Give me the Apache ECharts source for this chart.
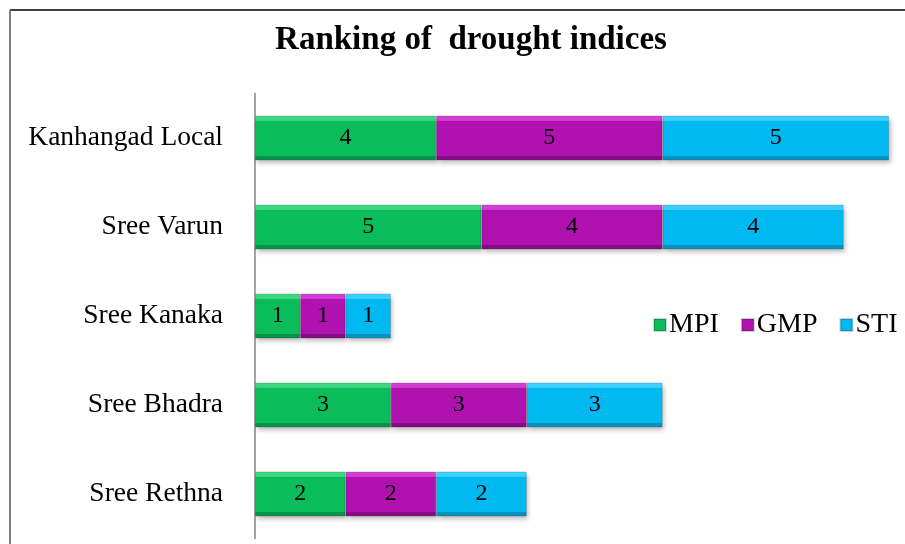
<!DOCTYPE html>
<html>
<head>
<meta charset="utf-8">
<script src="https://cdn.jsdelivr.net/npm/echarts@6/dist/echarts.min.js"></script>
<style>
  html, body { margin: 0; padding: 0; background: #fff; }
  #chart { width: 905px; height: 544px; }
</style>
</head>
<body>
<div id="chart"></div>
<script>
// Varieties, top to bottom
const varieties = ['Kanhangad Local', 'Sree Varun', 'Sree Kanaka', 'Sree Bhadra', 'Sree Rethna'];
// Rank of each variety under each drought index
const mpi = [4, 5, 1, 3, 2];
const gmp = [5, 4, 1, 3, 2];
const sti = [5, 4, 1, 3, 2];

const serif = '"Liberation Serif", "Times New Roman", serif';

// Bevelled look: light top strip, flat face, dark bottom strip
function bevel(light, base, dark) {
  return {
    type: 'linear', x: 0, y: 0, x2: 0, y2: 1,
    colorStops: [
      { offset: 0, color: light },
      { offset: 0.11, color: light },
      { offset: 0.12, color: base },
      { offset: 0.89, color: base },
      { offset: 0.90, color: dark },
      { offset: 1, color: dark }
    ]
  };
}

const fills = {
  MPI: bevel('#3fd882', '#0bbd5a', '#07934a'),
  GMP: bevel('#d23fd4', '#b012b0', '#860b86'),
  STI: bevel('#3fd0ff', '#00b9f1', '#0891bf')
};
const iconColors = { MPI: '#0bbd5a', GMP: '#b012b0', STI: '#00b9f1' };

function makeSeries(name, data) {
  return {
    name: name,
    type: 'bar',
    stack: 'rank',
    data: data,
    barWidth: 45,
    itemStyle: {
      color: fills[name],
      borderColor: 'rgba(0,0,0,0.18)',
      borderWidth: 0.8,
      shadowColor: 'rgba(0,0,0,0.3)',
      shadowBlur: 5,
      shadowOffsetX: 2,
      shadowOffsetY: 3
    },
    label: {
      show: true,
      position: 'inside',
      color: '#000',
      fontFamily: serif,
      fontSize: 24
    },
    emphasis: { disabled: true }
  };
}

const chart = echarts.init(document.getElementById('chart'), null, { renderer: 'canvas' });
chart.setOption({
  animation: false,
  backgroundColor: '#fff',
  title: {
    text: 'Ranking of  drought indices',
    left: 466,
    textAlign: 'center',
    top: 19,
    textStyle: { fontFamily: serif, fontSize: 33, fontWeight: 'bold', color: '#000' }
  },
  legend: {
    data: [
      { name: 'MPI', itemStyle: { color: iconColors.MPI } },
      { name: 'GMP', itemStyle: { color: iconColors.GMP } },
      { name: 'STI', itemStyle: { color: iconColors.STI } }
    ],
    left: 653,
    top: 311,
    width: 320,
    padding: 0,
    icon: 'rect',
    itemWidth: 12,
    itemHeight: 12,
    itemGap: 22,
    textStyle: { fontFamily: serif, fontSize: 28, color: '#000', padding: [0, 0, 0, -2] }
  },
  graphic: [
    { type: 'line', shape: { x1: 10, y1: 10, x2: 905, y2: 10 }, style: { stroke: '#000', lineWidth: 1.5 }, silent: true },
    { type: 'line', shape: { x1: 10, y1: 10, x2: 10, y2: 544 }, style: { stroke: '#7f7f7f', lineWidth: 2 }, silent: true }
  ],
  grid: { left: 255, right: 16, top: 93.5, bottom: 5.5, containLabel: false },
  xAxis: {
    type: 'value',
    min: 0,
    max: 14,
    show: false
  },
  yAxis: {
    type: 'category',
    data: varieties,
    inverse: true,
    axisLine: { show: true, lineStyle: { color: '#868686', width: 1.5 } },
    axisTick: { show: false },
    axisLabel: { fontFamily: serif, fontSize: 27.5, color: '#000', margin: 32 }
  },
  series: [
    makeSeries('MPI', mpi),
    makeSeries('GMP', gmp),
    makeSeries('STI', sti)
  ]
});
</script>
</body>
</html>
